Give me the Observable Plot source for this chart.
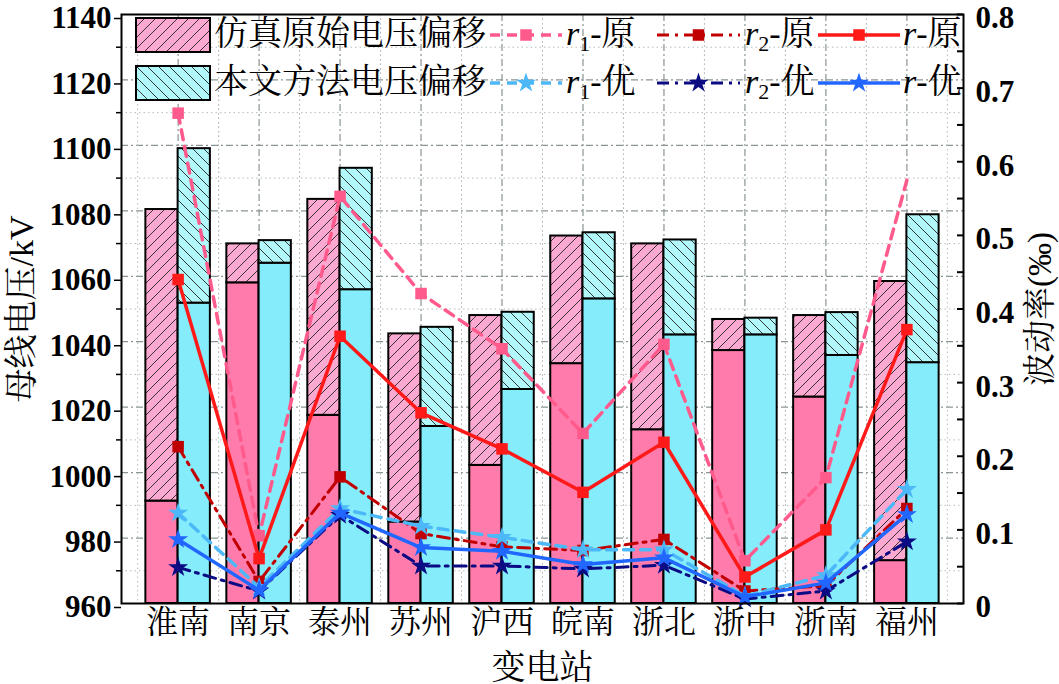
<!DOCTYPE html>
<html><head><meta charset="utf-8">
<script src="https://cdn.jsdelivr.net/npm/d3@7"></script>
<script src="https://cdn.jsdelivr.net/npm/@observablehq/plot@0.6"></script>
<style>
body{margin:0;background:#fff;}
#wrap{position:relative;width:1059px;height:684px;overflow:hidden;background:#fff;}
.lg{position:absolute;font-family:"Liberation Serif","Noto Serif CJK SC","Noto Sans CJK SC",serif;font-size:34px;line-height:36px;height:36px;color:#000;white-space:nowrap;}
.lg sub{font-size:22px;line-height:0;vertical-align:-6px;font-style:normal;}
</style></head><body>
<svg width="0" height="0" style="position:absolute">
<defs>
<pattern id="hatchPink" patternUnits="userSpaceOnUse" width="11" height="11">
<rect width="11" height="11" fill="#fba9d0"/>
<path d="M-1,12 L12,-1 M-3,3 L3,-3 M8,14 L14,8" stroke="#222" stroke-width="0.9"/>
</pattern>
<pattern id="hatchCyan" patternUnits="userSpaceOnUse" width="11" height="11">
<rect width="11" height="11" fill="#b2f7f9"/>
<path d="M-1,-1 L12,12 M-3,8 L3,14 M8,-3 L14,3" stroke="#222" stroke-width="0.9"/>
</pattern>
</defs></svg>
<div id="wrap"></div>
<script>
// ---- data ----
const stations = ["淮南","南京","泰州","苏州","沪西","皖南","浙北","浙中","浙南","福州"];
const origMin = [991.3, 1058.0, 1017.5, 984.9, 1002.2, 1033.3, 1013.1, 1037.3, 1023.1, 973.1];
const origMax = [1080.4, 1069.9, 1083.5, 1042.4, 1048.0, 1072.3, 1069.9, 1046.8, 1048.0, 1058.4];
const optMin  = [1051.8, 1064.0, 1055.9, 1014.1, 1025.4, 1053.1, 1042.1, 1042.1, 1035.8, 1033.6];
const optMax  = [1099.0, 1070.9, 1093.0, 1044.4, 1049.0, 1073.3, 1071.1, 1047.2, 1048.9, 1078.8];
const r1Orig = [0.666, 0.092, 0.553, 0.421, 0.346, 0.231, 0.352, 0.058, 0.171, 0.575];
const r2Orig = [0.213, 0.030, 0.172, 0.095, 0.077, 0.072, 0.087, 0.017, 0.024, 0.129];
const rOrig  = [0.440, 0.061, 0.363, 0.259, 0.210, 0.151, 0.219, 0.036, 0.100, 0.372];
const r1Opt  = [0.123, 0.022, 0.129, 0.105, 0.090, 0.073, 0.073, 0.010, 0.038, 0.155];
const r2Opt  = [0.049, 0.017, 0.120, 0.051, 0.051, 0.047, 0.052, 0.006, 0.017, 0.084];
const rOpt   = [0.087, 0.018, 0.123, 0.076, 0.071, 0.053, 0.062, 0.009, 0.028, 0.121];
const voltTicks = [960, 980, 1000, 1020, 1040, 1060, 1080, 1100, 1120, 1140];
const voltMinor = [970, 990, 1010, 1030, 1050, 1070, 1090, 1110, 1130];
const rateTicks = [0, 0.1, 0.2, 0.3, 0.4, 0.5, 0.6, 0.7, 0.8];
const rateMinor = [0.05, 0.15, 0.25, 0.35, 0.45, 0.55, 0.65, 0.75];
const barLabels = ["仿真原始电压偏移", "本文方法电压偏移"];
const seriesNames = ["r1-原", "r2-原", "r-原", "r1-优", "r2-优", "r-优"];

// ---- setup ----
const FONT = '"Liberation Serif","Noto Serif CJK SC","Noto Sans CJK SC",serif';
const W = 1059, H = 684, mL = 121, mR = 96, mT = 14, mB = 81;
const plotW = W - mL - mR;
const pIn = 0.2034, pOut = 0.301;
const step = plotW / (stations.length - pIn + 2 * pOut);
const half = step * (1 - pIn) / 2;
const vMin = 960, vMax = 1140, rMax = 0.8;
const toV = r => vMin + r * (vMax - vMin) / rMax;

const data = stations.map((s, i) => ({
  station: s, origMin: origMin[i], origMax: origMax[i], optMin: optMin[i], optMax: optMax[i],
  r1Orig: r1Orig[i], r2Orig: r2Orig[i], rOrig: rOrig[i], r1Opt: r1Opt[i], r2Opt: r2Opt[i], rOpt: rOpt[i]
}));

const series = [
  {key: "r1Orig", name: seriesNames[0], color: "#ff5a8c", dash: "10,7", width: 3.5, symbol: "square", r: 6.5},
  {key: "r2Orig", name: seriesNames[1], color: "#c00000", dash: "12,6,3,6", width: 3, symbol: "square", r: 6.5},
  {key: "rOrig",  name: seriesNames[2], color: "#ff1a1a", dash: null, width: 3.5, symbol: "square", r: 6.5},
  {key: "r1Opt",  name: seriesNames[3], color: "#4cb8f8", dash: "10,7", width: 3.5, symbol: "star", r: 6.3},
  {key: "r2Opt",  name: seriesNames[4], color: "#0b0b84", dash: "12,6,3,6", width: 3, symbol: "star", r: 6.3},
  {key: "rOpt",   name: seriesNames[5], color: "#2166ff", dash: null, width: 3.5, symbol: "star", r: 6.3}
];

const lineMarks = series.flatMap(s => [
  Plot.line(data, {x: "station", y: d => toV(d[s.key]), stroke: s.color, strokeWidth: s.width,
    strokeDasharray: s.dash, strokeLinejoin: "round"}),
  Plot.dot(s.key === "r1Orig" ? data.filter(d => d.station !== "福州") : data,
    {x: "station", y: d => toV(d[s.key]), symbol: s.symbol, fill: s.color, r: s.r})
]);

const rateLabel = d => { const t = Math.round((d - vMin) / (vMax - vMin) * rMax * 10) / 10; return t === 0 ? "0" : t.toFixed(1); };

const gridMinor = {stroke: "#b4bcbc", strokeOpacity: 1, strokeWidth: 1, strokeDasharray: "1.5,3"};
const gridMajor = {stroke: "#8a9494", strokeOpacity: 1, strokeWidth: 1.2, strokeDasharray: "7,3,2,3"};

const chart = Plot.plot({
  width: W, height: H, marginTop: mT, marginRight: mR, marginBottom: mB, marginLeft: mL,
  style: {fontFamily: FONT, background: "transparent", overflow: "visible", color: "black"},
  x: {domain: stations, paddingInner: pIn, paddingOuter: pOut, round: false},
  y: {domain: [vMin, vMax]},
  marks: [
    Plot.gridY(voltMinor, gridMinor),
    Plot.gridY(voltTicks, gridMajor),
    Plot.ruleX(stations, {x: d => d, dx: -step / 2, ...gridMinor}),
    Plot.ruleX(stations, {x: d => d, dx: step / 2, ...gridMinor}),
    Plot.gridX(stations, gridMajor),
    Plot.barY(data, {x: "station", y1: vMin, y2: "origMin", fill: "#ff7bac", stroke: "black", strokeWidth: 2, insetRight: half}),
    Plot.barY(data, {x: "station", y1: "origMin", y2: "origMax", fill: "url(#hatchPink)", stroke: "black", strokeWidth: 2, insetRight: half}),
    Plot.barY(data, {x: "station", y1: vMin, y2: "optMin", fill: "#84ecfb", stroke: "black", strokeWidth: 2, insetLeft: half}),
    Plot.barY(data, {x: "station", y1: "optMin", y2: "optMax", fill: "url(#hatchCyan)", stroke: "black", strokeWidth: 2, insetLeft: half}),
    ...lineMarks,
    Plot.ruleY([...rateTicks, ...rateMinor].map(toV), {insetLeft: plotW - 6, stroke: "black", strokeWidth: 2}),
    Plot.frame({stroke: "black", strokeWidth: 2}),
    Plot.axisY(voltTicks, {anchor: "left", tickSize: 7, tickPadding: 3, tickFormat: d => String(d), fontSize: 31, dy: 4, fontWeight: "bold", strokeWidth: 1.5, label: null}),
    Plot.axisY(voltMinor, {anchor: "left", tickSize: 5, tickFormat: () => "", strokeWidth: 1.5, label: null}),
    Plot.axisY(rateTicks.map(toV), {anchor: "right", tickSize: 0, tickPadding: 12, tickFormat: rateLabel, fontSize: 31, dy: 4, fontWeight: "bold", label: null}),
    Plot.axisX({anchor: "bottom", tickSize: 0, tickPadding: 7, fontSize: 32, label: null}),
    Plot.text(["母线电压/kV"], {frameAnchor: "left", dx: -99, rotate: -90, textAnchor: "middle", fontSize: 34}),
    Plot.text(["波动率(‰)"], {frameAnchor: "right", dx: 77, rotate: -90, textAnchor: "middle", fontSize: 33}),
    Plot.text(["变电站"], {frameAnchor: "bottom", dy: 75, fontSize: 34})
  ]
});
const wrap = document.getElementById("wrap");
wrap.appendChild(chart);

// ---- legend (HTML overlay) ----
function addDiv(left, top, html, cls = "lg") {
  const d = document.createElement("div");
  d.className = cls; d.style.left = left + "px"; d.style.top = top + "px"; d.innerHTML = html;
  wrap.appendChild(d); return d;
}
const rowTop = [17, 65];
const fills = ["url(#hatchPink)", "url(#hatchCyan)"];
rowTop.forEach((t, i) => {
  addDiv(135, t, `<svg width="76" height="36"><rect x="1" y="1" width="74" height="34" fill="${fills[i]}" stroke="black" stroke-width="2"/></svg>`, "lg");
  addDiv(214, t - 1, barLabels[i]);
});
const swX = [[490, 562], [657, 740], [818, 900]];
const lbX = [566, 745, 903];
series.forEach((s, i) => {
  const row = i < 3 ? 0 : 1, col = i % 3;
  const [a, b] = swX[col];
  const w = b - a;
  const sym = d3.symbol(s.symbol === "star" ? d3.symbolStar : d3.symbolSquare, Math.PI * s.r * s.r)();
  addDiv(a, rowTop[row], `<svg width="${w}" height="36"><line x1="0" x2="${w}" y1="18" y2="18" stroke="${s.color}" stroke-width="${s.width}" ${s.dash ? `stroke-dasharray="${s.dash}"` : ""}/><path transform="translate(${w / 2},18)" d="${sym}" fill="${s.color}"/></svg>`);
  const parts = s.name.split("-");
  const sub = parts[0].length > 1 ? `<sub>${parts[0].slice(1)}</sub>` : "";
  addDiv(lbX[col], rowTop[row] - 1, `<i>r</i>${sub}-${parts[1]}`);
});
</script>
</body></html>
